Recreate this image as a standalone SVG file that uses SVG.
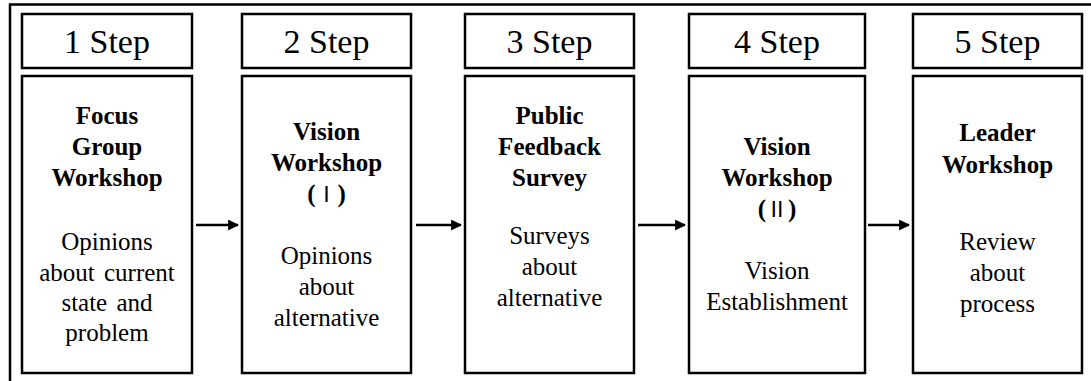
<svg xmlns="http://www.w3.org/2000/svg" width="1091" height="381" viewBox="0 0 1091 381">
<style>
.box{fill:#fff;stroke:#000;stroke-width:2.5}
.hd{font-family:"Liberation Serif","Times New Roman",serif;font-size:34px;text-anchor:middle;fill:#000}
.b{font-family:"Liberation Serif","Times New Roman","Noto Sans CJK KR",serif;font-weight:bold;font-size:25px;text-anchor:middle;fill:#000}
.n{font-family:"Liberation Serif","Times New Roman",serif;font-size:25px;text-anchor:middle;fill:#000}
.rn{font-family:"Noto Sans CJK KR",sans-serif;font-weight:normal;font-size:22px}
.ar{stroke:#000;stroke-width:2.5;fill:none;marker-end:url(#ah)}
</style>
<defs>
<marker id="ah" viewBox="0 0 10 10" refX="9" refY="5" markerWidth="4.4" markerHeight="4.4" orient="auto" markerUnits="strokeWidth">
<path d="M0,0 L10,5 L0,10 z" fill="#000"/>
</marker>
</defs>
<rect width="1091" height="381" fill="#fff"/>
<path d="M10,381 V4.5 H1091" fill="none" stroke="#000" stroke-width="2.5"/>
<g id="step1">
<rect class="box" x="22" y="14" width="170" height="54"/>
<text class="hd" x="107" y="53">1 Step</text>
<rect class="box" x="22" y="76" width="170" height="297"/>
<text class="b" x="107" y="124">Focus</text>
<text class="b" x="107" y="155">Group</text>
<text class="b" x="107" y="186">Workshop</text>
<text class="n" x="107" y="250">Opinions</text>
<text class="n" x="107" y="281" word-spacing="3">about current</text>
<text class="n" x="107" y="311" word-spacing="3">state and</text>
<text class="n" x="107" y="341">problem</text>
</g>
<g id="step2">
<rect class="box" x="242" y="14" width="169" height="54"/>
<text class="hd" x="326.5" y="53">2 Step</text>
<rect class="box" x="242" y="76" width="169" height="297"/>
<text class="b" x="326.5" y="140">Vision</text>
<text class="b" x="326.5" y="171">Workshop</text>
<text class="b" x="326.5" y="202">(<tspan class="rn">Ⅰ</tspan>)</text>
<text class="n" x="326.5" y="264">Opinions</text>
<text class="n" x="326.5" y="295">about</text>
<text class="n" x="326.5" y="326">alternative</text>
</g>
<g id="step3">
<rect class="box" x="465" y="14" width="169" height="54"/>
<text class="hd" x="549.5" y="53">3 Step</text>
<rect class="box" x="465" y="76" width="169" height="297"/>
<text class="b" x="549.5" y="124">Public</text>
<text class="b" x="549.5" y="155">Feedback</text>
<text class="b" x="549.5" y="186">Survey</text>
<text class="n" x="549.5" y="244">Surveys</text>
<text class="n" x="549.5" y="275">about</text>
<text class="n" x="549.5" y="306">alternative</text>
</g>
<g id="step4">
<rect class="box" x="689" y="14" width="176" height="54"/>
<text class="hd" x="777" y="53">4 Step</text>
<rect class="box" x="689" y="76" width="176" height="297"/>
<text class="b" x="777" y="155">Vision</text>
<text class="b" x="777" y="186">Workshop</text>
<text class="b" x="777" y="217">(<tspan class="rn">Ⅱ</tspan>)</text>
<text class="n" x="777" y="279">Vision</text>
<text class="n" x="777" y="310">Establishment</text>
</g>
<g id="step5">
<rect class="box" x="913" y="14" width="169" height="54"/>
<text class="hd" x="997.5" y="53">5 Step</text>
<rect class="box" x="913" y="76" width="169" height="297"/>
<text class="b" x="997.5" y="141">Leader</text>
<text class="b" x="997.5" y="173">Workshop</text>
<text class="n" x="997.5" y="250">Review</text>
<text class="n" x="997.5" y="281">about</text>
<text class="n" x="997.5" y="312">process</text>
</g>
<g id="connectors">
<line class="ar" x1="196" y1="225" x2="238" y2="225"/>
<line class="ar" x1="416" y1="225" x2="461" y2="225"/>
<line class="ar" x1="638" y1="225" x2="685" y2="225"/>
<line class="ar" x1="868" y1="225" x2="909" y2="225"/>
</g>
</svg>
